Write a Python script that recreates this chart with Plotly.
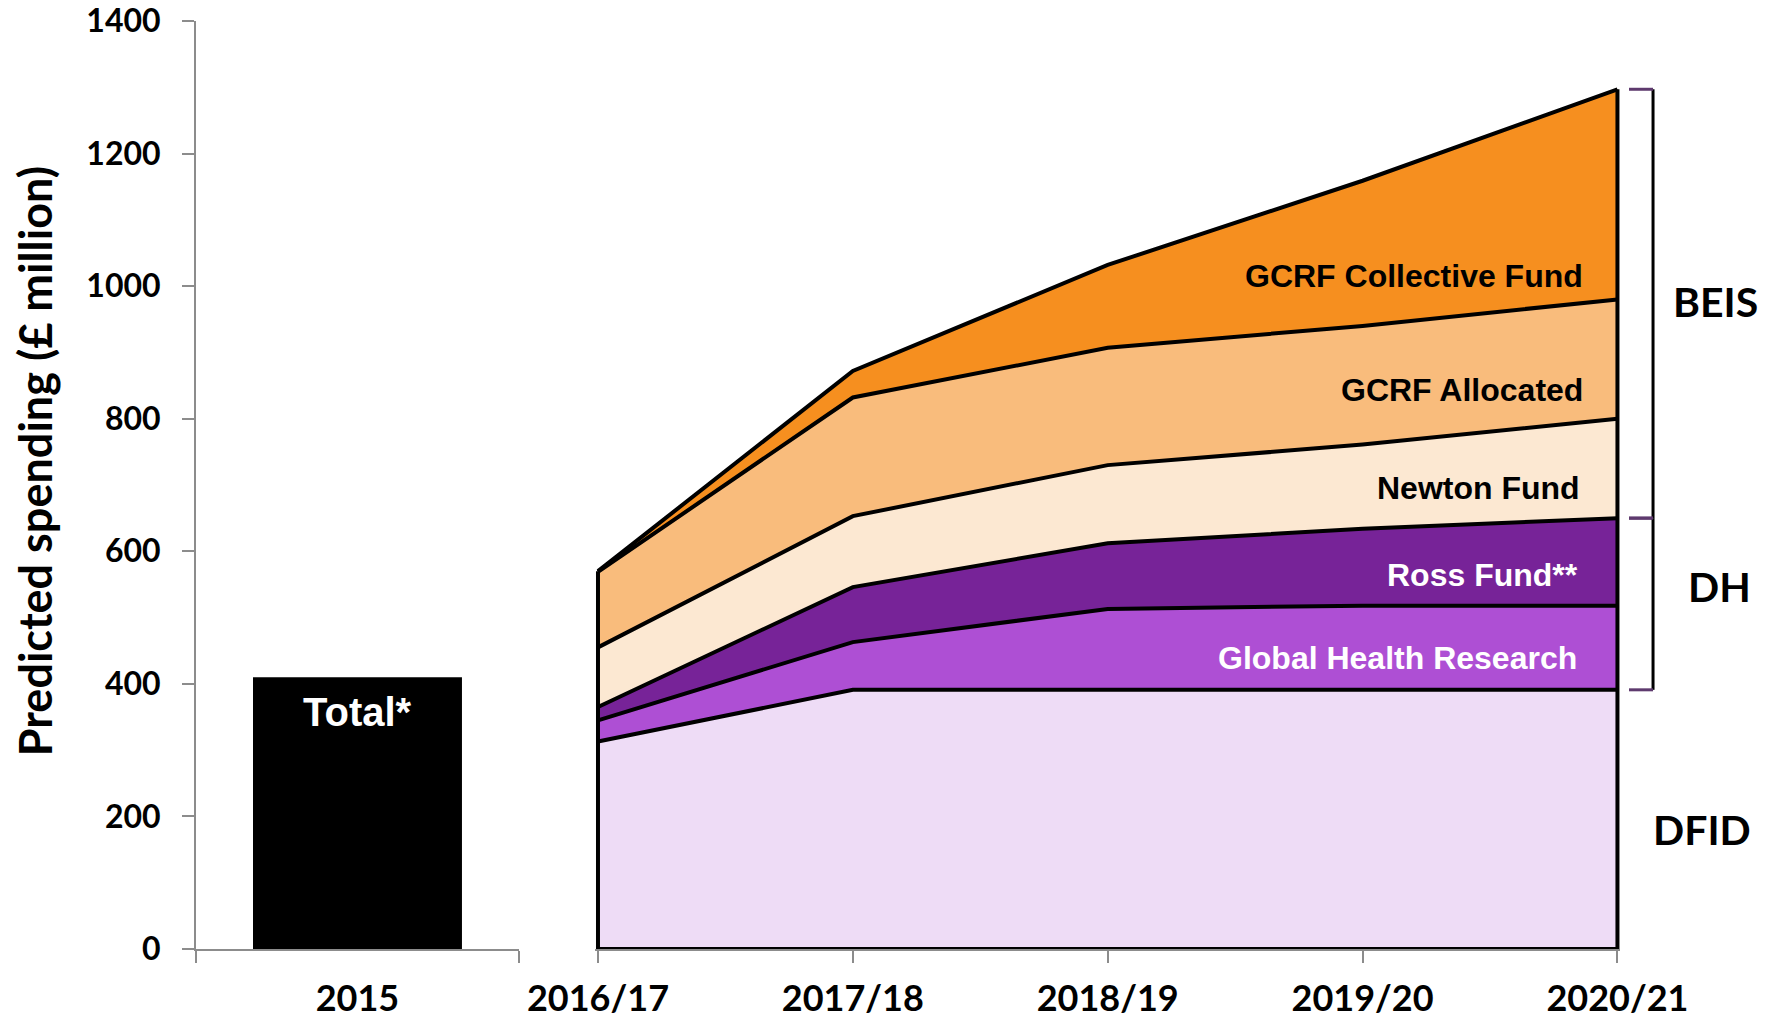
import plotly.graph_objects as go

# ---- data ----
bar_categories = ["2015"]
total_2015 = [410]

years = ["2016/17", "2017/18", "2018/19", "2019/20", "2020/21"]
dfid = [313, 391, 391, 391, 391]
global_health_research = [32, 72, 122, 127, 127]
ross_fund = [20, 83, 99, 116, 132]
newton_fund = [90, 107, 118, 127, 150]
gcrf_allocated = [114, 179, 177, 179, 180]
gcrf_collective = [1, 40, 125, 219, 317]

series = [
    ("DFID", dfid, "#EEDCF6"),
    ("Global Health Research", global_health_research, "#AE4FD4"),
    ("Ross Fund**", ross_fund, "#772398"),
    ("Newton Fund", newton_fund, "#FCE8D2"),
    ("GCRF Allocated", gcrf_allocated, "#F9BC7C"),
    ("GCRF Collective Fund", gcrf_collective, "#F68F1F"),
]

y_ticks = [0, 200, 400, 600, 800, 1000, 1200, 1400]

# cumulative tops computed from data
tops = []
run = [0] * len(years)
for _, vals, _ in series:
    run = [a + b for a, b in zip(run, vals)]
    tops.append(run)
totals = tops[-1]
dh_top = tops[2]
dfid_top = tops[0]

fig = go.Figure()

fig.add_trace(go.Bar(
    x=bar_categories, y=total_2015, marker=dict(color="black", line=dict(width=0)),
    xaxis="x", yaxis="y", showlegend=False, hoverinfo="y",
))

for name, vals, color in series:
    fig.add_trace(go.Scatter(
        x=years, y=vals, name=name, stackgroup="one", mode="lines",
        line=dict(color="black", width=4), fillcolor=color,
        xaxis="x2", yaxis="y", showlegend=False,
    ))

# outline edges of the stacked area
fig.add_trace(go.Scatter(
    x=[years[0], years[0], None, years[-1], years[-1], None, years[0], years[-1]],
    y=[0, totals[0], None, 0, totals[-1], None, 0, 0],
    mode="lines", line=dict(color="black", width=4),
    xaxis="x2", yaxis="y", showlegend=False, hoverinfo="skip",
))

tick_font = dict(family="Lato", size=36, color="black", weight="bold")
axis_grey = "#8C8C8C"

fig.update_layout(
    width=1776, height=1019,
    margin=dict(l=196, r=156, t=21, b=70, autoexpand=False),
    paper_bgcolor="white", plot_bgcolor="white",
    bargap=0.353,
    showlegend=False,
    xaxis=dict(
        type="category", domain=[0, 0.2268], range=[-0.5, 0.5],
        tickson="boundaries", ticks="outside", ticklen=12, tickwidth=2, tickcolor=axis_grey,
        showline=True, linecolor=axis_grey, linewidth=2, showgrid=False, zeroline=False,
        tickfont=tick_font, anchor="y", ticklabelstandoff=17, fixedrange=True, automargin=False,
        ticklabeloverflow="allow",
    ),
    xaxis2=dict(
        type="category", domain=[0.2805, 1], range=[-0.01, 4.01],
        ticks="outside", ticklen=12, tickwidth=2, tickcolor=axis_grey,
        showline=True, linecolor=axis_grey, linewidth=2, showgrid=False, zeroline=False,
        tickfont=tick_font, anchor="y", ticklabelstandoff=5, fixedrange=True, automargin=False,
        ticklabeloverflow="allow",
    ),
    yaxis=dict(
        range=[0, 1400], tickvals=y_ticks, ticks="outside", ticklen=12, tickwidth=2,
        tickcolor=axis_grey, showline=True, linecolor=axis_grey, linewidth=2,
        showgrid=False, zeroline=False, tickfont=dict(family="Lato", size=32, color="black", weight="bold"),
        anchor="x", ticklabelstandoff=15, fixedrange=True, automargin=False,
        ticklabeloverflow="allow",
    ),
)

# y axis title
fig.add_annotation(
    text="Predicted spending (£ million)", textangle=-90,
    xref="paper", yref="paper", x=-0.1131, y=0.5255, xanchor="center", yanchor="middle",
    showarrow=False, font=dict(family="Lato", size=45, color="black", weight="bold"),
)

# Total label in bar (category index 0 = "2015")
fig.add_annotation(
    text="Total*", xref="x", yref="y", x=0, y=358,
    showarrow=False, font=dict(family="Liberation Sans", size=40, color="white", weight="bold"),
)

# area labels
area_labels = [
    ("GCRF Collective Fund", 1015, "black", -32),
    ("GCRF Allocated", 843, "black", -32),
    ("Newton Fund", 696, "black", -35),
    ("Ross Fund**", 564, "white", -37),
    ("Global Health Research", 439, "white", -38),
]
for txt, yv, col, xs in area_labels:
    fig.add_annotation(
        text=txt, xref="x2", yref="y", x=years[-1], y=yv, xanchor="right", yanchor="middle",
        xshift=xs, showarrow=False,
        font=dict(family="Liberation Sans", size=32, color=col, weight="bold"),
    )

# brackets
bx = 1.0232
btick = 1.0063
purple = "#5E3A6E"
for y_lo, y_hi in [(dh_top[-1], totals[-1]), (dfid_top[-1], dh_top[-1])]:
    fig.add_shape(type="line", xref="paper", yref="y", x0=bx, x1=bx, y0=y_lo, y1=y_hi,
                  line=dict(color="black", width=3))
    for yy in (y_lo, y_hi):
        fig.add_shape(type="line", xref="paper", yref="y", x0=btick, x1=bx, y0=yy, y1=yy,
                      line=dict(color=purple, width=3))

dept_labels = [("BEIS", 1.0673, 977), ("DH", 1.0699, 547), ("DFID", 1.0573, 181)]
for txt, xp, yv in dept_labels:
    fig.add_annotation(
        text=txt, xref="paper", yref="y", x=xp, y=yv, xanchor="center", yanchor="middle",
        showarrow=False, font=dict(family="Lato", size=41, color="black", weight="bold"),
    )

fig.write_html(
    "out.html",
    config={"displayModeBar": False},
    post_script="document.body.style.margin='0';document.body.style.overflow='hidden';",
)
